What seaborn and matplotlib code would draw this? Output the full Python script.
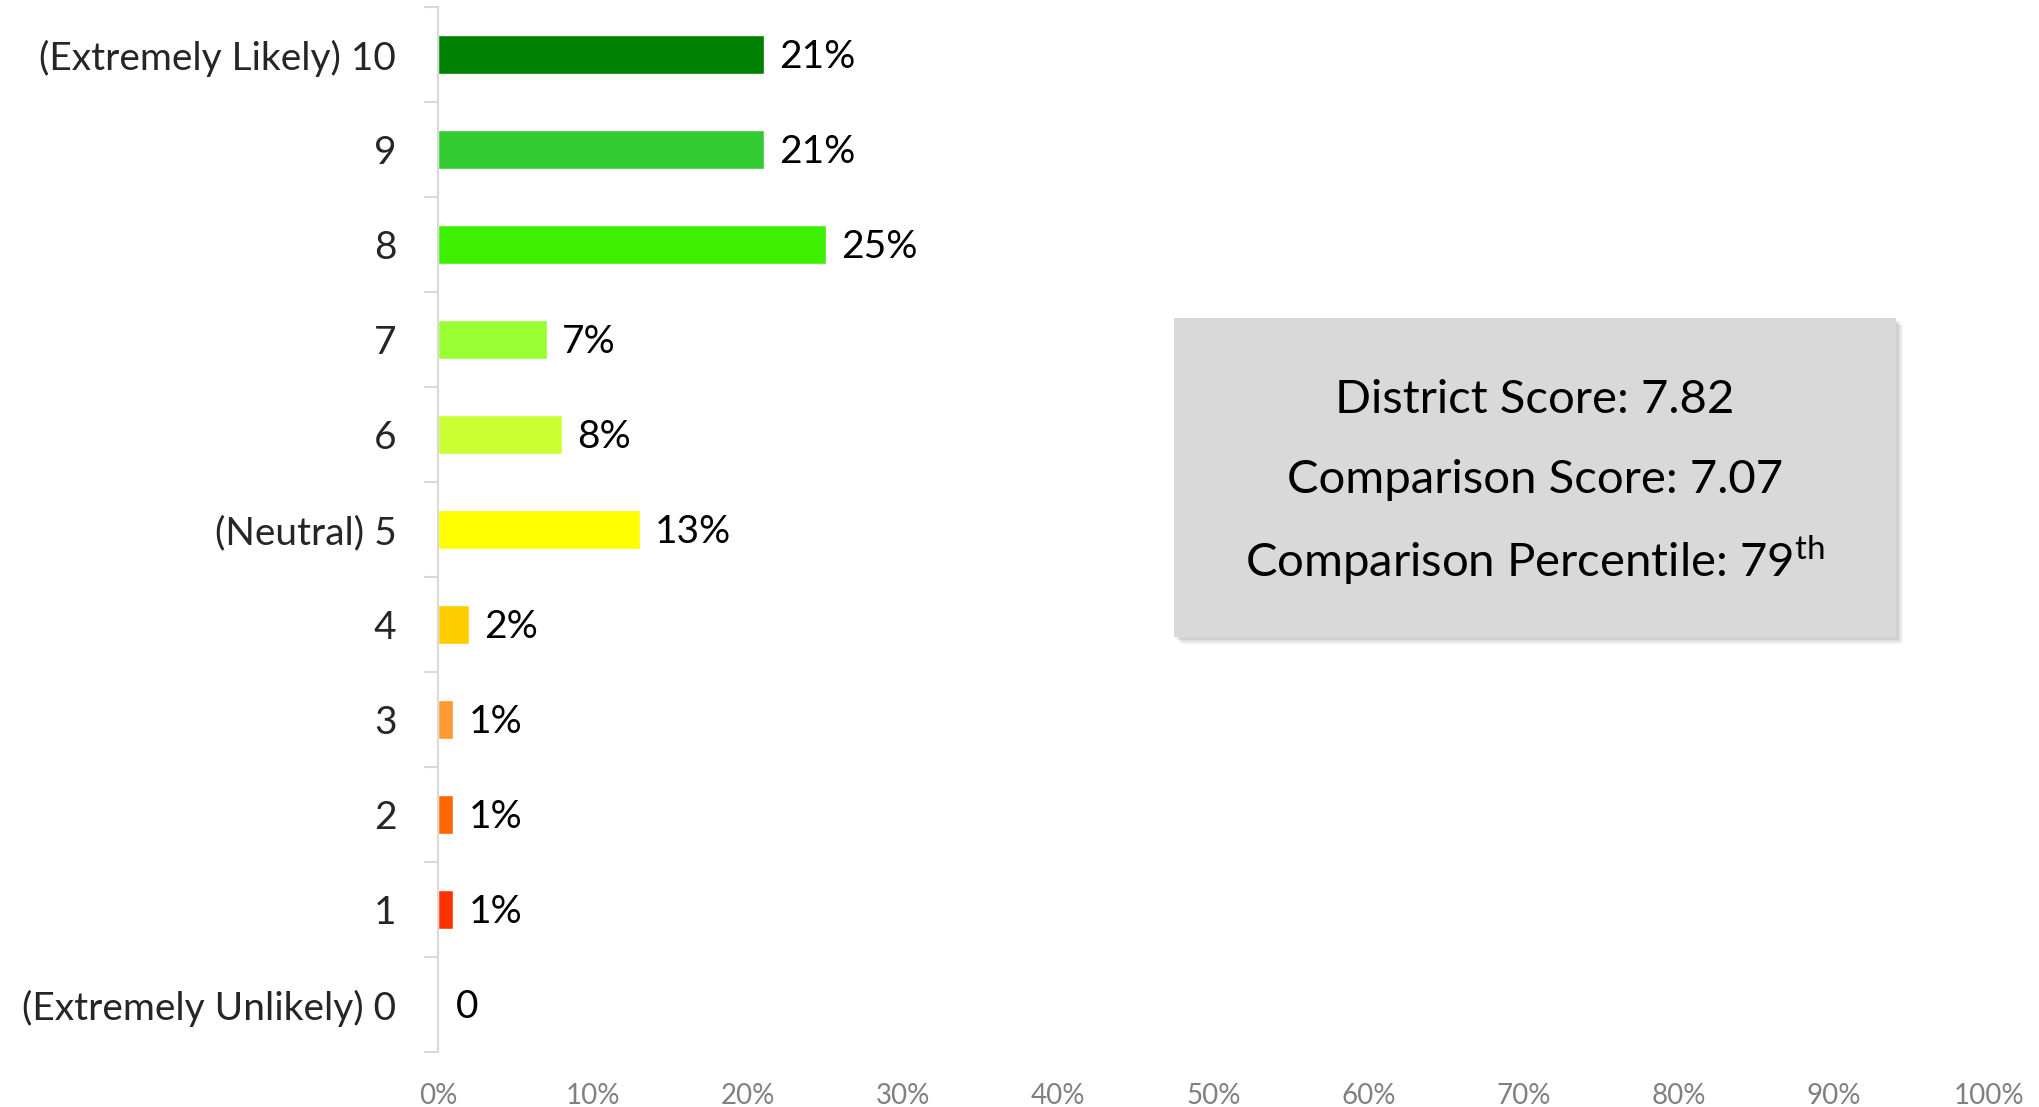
import matplotlib
matplotlib.use("Agg")
import matplotlib.pyplot as plt
import seaborn as sns
from matplotlib.patches import Rectangle

categories = ["(Extremely Likely) 10", "9", "8", "7", "6", "(Neutral) 5",
              "4", "3", "2", "1", "(Extremely Unlikely) 0"]
values = [21, 21, 25, 7, 8, 13, 2, 1, 1, 1, 0]
value_labels = ["21%", "21%", "25%", "7%", "8%", "13%", "2%", "1%", "1%", "1%", "0"]
colors = ["#008000", "#33cc33", "#3cf000", "#99ff33", "#ccff33", "#ffff00",
          "#ffcc00", "#ff9933", "#ff6600", "#ff3300", "#ff0000"]
xticks = [0, 10, 20, 30, 40, 50, 60, 70, 80, 90, 100]
xtick_labels = [f"{t}%" for t in xticks]
box_lines = ["District Score: 7.82", "Comparison Score: 7.07",
             "Comparison Percentile: 79$^{\\rm th}$"]

sns.set_style("white")
plt.rcParams["font.family"] = ["Lato", "DejaVu Sans"]
plt.rcParams["mathtext.fontset"] = "custom"
plt.rcParams["mathtext.rm"] = "Lato"

fig = plt.figure(figsize=(20.39, 11.07), dpi=100)
ax = fig.add_axes([0.2148, 0.0497, 0.7607, 0.944])

sns.barplot(x=values, y=categories, hue=categories, palette=colors,
            legend=False, width=0.41, orient="h", ax=ax, saturation=1)

ax.set_xlim(0, 100)
ax.set_ylim(len(categories) - 0.5, -0.5)
ax.set_xticks(xticks)
ax.set_xticklabels(xtick_labels, color="#808080", fontsize=20)
ax.tick_params(axis="x", length=0, pad=22)
ax.tick_params(axis="y", which="major", left=False, length=0, pad=30, labelsize=28)
ax.set_yticks([i + 0.5 for i in range(-1, len(categories))], minor=True)
ax.tick_params(axis="y", which="minor", left=True, length=10, color="#d9d9d9", width=1.5)
ax.set_xlabel("")
ax.set_ylabel("")
for s in ["top", "right", "bottom"]:
    ax.spines[s].set_visible(False)
ax.spines["left"].set_color("#d9d9d9")
ax.spines["left"].set_linewidth(1.5)

for i, (v, lab) in enumerate(zip(values, value_labels)):
    ax.annotate(lab, xy=(v, i), xytext=(11 if v > 0 else 13, -2),
                textcoords="offset points", va="center", ha="left",
                fontsize=28, color="black")

# info box in figure coordinates
bx0, by0, bx1, by1 = 1174 / 2039, 1 - 637 / 1107, 1896 / 2039, 1 - 318 / 1107
for k, a in [(7, 0.10), (5, 0.15), (3, 0.2)]:
    fig.patches.append(Rectangle((bx0 + k / 2039, by0 - k / 1107), bx1 - bx0, by1 - by0,
                                 transform=fig.transFigure, facecolor="#888888",
                                 alpha=a, edgecolor="none", zorder=1))
fig.patches.append(Rectangle((bx0, by0), bx1 - bx0, by1 - by0, transform=fig.transFigure,
                             facecolor="#d9d9d9", edgecolor="none", zorder=2))
cx = (bx0 + bx1) / 2
for j, line in enumerate(box_lines):
    fig.text(cx, 1 - (400 + 80 * j) / 1107, line, ha="center", va="center",
             fontsize=34, color="black", zorder=3)

fig.savefig("out.png", dpi=100)
